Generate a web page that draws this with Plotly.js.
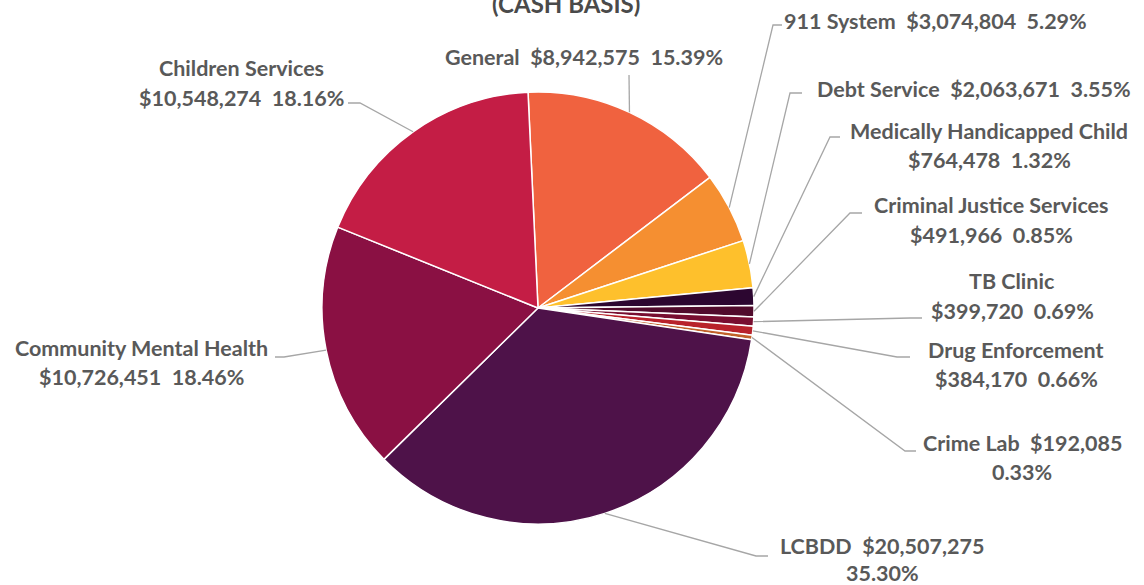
<!DOCTYPE html>
<html>
<head>
<meta charset="utf-8">
<script src="https://cdn.plot.ly/plotly-3.0.1.min.js"></script>
<style>html,body{margin:0;padding:0;background:#fff;}#chart{width:1144px;height:585px;}</style>
</head>
<body>
<div id="chart"></div>
<script>
// ---- data ----
const categories = ["General", "911 System", "Debt Service", "Medically Handicapped Child",
  "Criminal Justice Services", "TB Clinic", "Drug Enforcement", "Crime Lab",
  "LCBDD", "Community Mental Health", "Children Services"];
const values = [8942575, 3074804, 2063671, 764478, 491966, 399720, 384170, 192085,
  20507275, 10726451, 10548274];
const titleText = "(CASH BASIS)";

// ---- styles / layout ----
const colors = ["#F0623F", "#F58F31", "#FEC02C", "#2C0630", "#510B2C", "#780E30",
  "#B8222B", "#C0622A", "#4E1249", "#8A1043", "#C41D45"];
const W = 1144, H = 585;
const CX = 538, CY = 308, R = 216;      // pie centre / radius in px
const ROT = -2.65;                       // start angle (deg, clockwise from 12 o'clock)
// label break style: 'one' = single line, 'name' = name / value pct, 'pct' = name value / pct
const breakStyle = ["one", "one", "one", "name", "name", "name", "name", "pct", "pct", "name", "name"];
// label centre x, line1 y, line2 y (px)
const labelPos = [[584, 57, null], [935, 21, null], [974, 89, null], [989, 131, 160],
  [992, 205, 235], [1012, 281, 311], [1016, 350, 379], [1022, 443, 472],
  [882, 546, 573], [141, 348, 377], [241, 68, 98]];
// leader elbow and end points (px)
const leaderPts = [[[629, 75], [629, 75]], [[773, 25], [782, 25]], [[790, 93], [802, 93]],
  [[830, 137], [840, 137]], [[850, 213], [862, 213]], [[910, 318], [922, 318]],
  [[897, 357], [910, 357]], [[905, 451], [916, 451]], [[756, 556], [768, 556]],
  [[284, 357], [275, 357]], [[360, 103], [348, 103]]];

const px = x => x / W;
const py = y => 1 - y / H;
const NB = "\u00A0\u00A0";
const total = values.reduce((a, b) => a + b, 0);
const fmt = v => "$" + v.toLocaleString("en-US");
const pct = v => (v / total * 100).toFixed(2) + "%";

const font = {family: "Lato, 'Open Sans', sans-serif", size: 21.5, color: "#595959", weight: 700};
const annotations = [];
const shapes = [];
let ang = ROT;
categories.forEach((c, i) => {
  const span = values[i] / total * 360;
  const mid = (ang + span / 2) * Math.PI / 180;
  ang += span;
  const ex = CX + R * Math.sin(mid), ey = CY - R * Math.cos(mid);
  const [[bx, by], [hx, hy]] = leaderPts[i];
  shapes.push({type: "path", xref: "paper", yref: "paper",
    path: `M ${px(ex)},${py(ey)} L ${px(bx)},${py(by)} L ${px(hx)},${py(hy)}`,
    line: {color: "#A6A6A6", width: 1.3}});
  let l1, l2 = null;
  if (breakStyle[i] === "one") l1 = c + NB + fmt(values[i]) + NB + pct(values[i]);
  else if (breakStyle[i] === "name") { l1 = c; l2 = fmt(values[i]) + NB + pct(values[i]); }
  else { l1 = c + NB + fmt(values[i]); l2 = pct(values[i]); }
  const [lx, y1, y2] = labelPos[i];
  annotations.push({text: l1, x: px(lx), y: py(y1), xref: "paper", yref: "paper",
    xanchor: "center", yanchor: "middle", showarrow: false, font: font});
  if (l2) annotations.push({text: l2, x: px(lx), y: py(y2), xref: "paper", yref: "paper",
    xanchor: "center", yanchor: "middle", showarrow: false, font: font});
});
annotations.push({text: titleText, x: px(566), y: py(4), xref: "paper", yref: "paper",
  xanchor: "center", yanchor: "middle", showarrow: false,
  font: {family: "Lato, 'Open Sans', sans-serif", size: 24, color: "#4A4A4A", weight: 700}});

const trace = {
  type: "pie", labels: categories, values: values, sort: false, direction: "clockwise",
  rotation: ROT, textinfo: "none", hoverinfo: "label+value+percent",
  marker: {colors: colors, line: {color: "#FFFFFF", width: 1.5}},
  domain: {x: [px(CX - R), px(CX + R)], y: [py(CY + R), py(CY - R)]},
  showlegend: false
};
Plotly.newPlot("chart", [trace], {
  width: W, height: H, margin: {l: 0, r: 0, t: 0, b: 0},
  paper_bgcolor: "#FFFFFF", showlegend: false,
  annotations: annotations, shapes: shapes
}, {displayModeBar: false, staticPlot: true});
</script>
</body>
</html>
